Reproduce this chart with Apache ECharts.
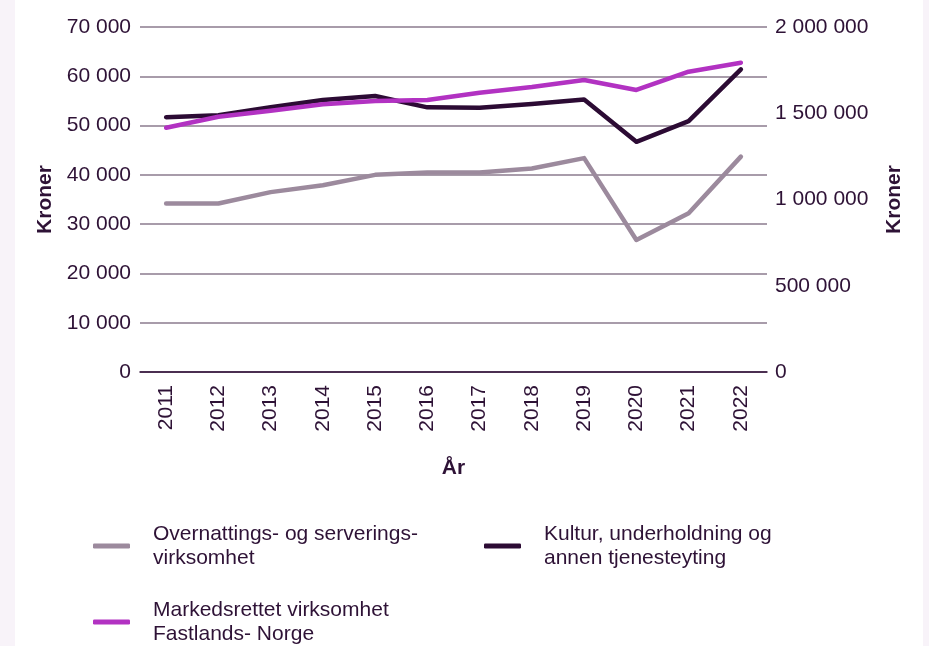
<!DOCTYPE html>
<html>
<head>
<meta charset="utf-8">
<script src="https://cdn.jsdelivr.net/npm/echarts@6/dist/echarts.min.js"></script>
<style>
  html, body { margin: 0; padding: 0; background: #ffffff; }
  #chart { width: 929px; height: 646px; }
</style>
</head>
<body>
<div id="chart"></div>
<script>
// data
var years = ["2011", "2012", "2013", "2014", "2015", "2016", "2017", "2018", "2019", "2020", "2021", "2022"];
var overnatting = [34200, 34200, 36500, 37900, 40000, 40500, 40500, 41300, 43400, 26800, 32200, 43700];
var kultur = [51700, 52100, 53700, 55200, 56000, 53700, 53600, 54400, 55300, 46700, 50900, 61400];
var markedsrettet = [1416000, 1480000, 1515000, 1552000, 1571000, 1577000, 1619000, 1652000, 1693000, 1635000, 1741000, 1793000];
var leftTicks = [0, 70000, 10000];      // min, max, interval
var rightTicks = [0, 2000000, 500000];  // min, max, interval

var names = {
    over: "Overnattings- og serverings-\nvirksomhet",
    kult: "Kultur, underholdning og\nannen tjenesteyting",
    mark: "Markedsrettet virksomhet\nFastlands- Norge"
};
var colors = ['#9c8a9d', '#2c0b34', '#b232c2'];
var textColor = '#2e1236';
var fontFam = '"Liberation Sans", Arial, sans-serif';
var fs = 21;

function spaced(v) {
    return String(v).replace(/\B(?=(\d{3})+(?!\d))/g, ' ');
}

function legendFor(name, left, top) {
    return {
        data: [name],
        left: left,
        top: top,
        icon: 'roundRect',
        itemWidth: 37,
        itemHeight: 5,
        selectedMode: false,
        textStyle: {
            color: textColor,
            fontSize: fs,
            fontFamily: fontFam,
            lineHeight: 24,
            padding: [0, 0, 0, 18]
        }
    };
}

var myChart = echarts.init(document.getElementById('chart'));
var option = {
    backgroundColor: '#ffffff',
    animation: false,
    color: colors,
    graphic: [
        { type: 'rect', shape: { x: 0, y: 0, width: 15, height: 646 }, style: { fill: '#f8f3f9' }, silent: true },
        { type: 'rect', shape: { x: 923, y: 0, width: 6, height: 646 }, style: { fill: '#f8f3f9' }, silent: true }
    ],
    legend: [
        legendFor(names.over, 88, 517),
        legendFor(names.kult, 479, 517),
        legendFor(names.mark, 88, 593)
    ],
    grid: {
        left: 140,
        right: 162,
        top: 27,
        bottom: 274,
        containLabel: false
    },
    xAxis: {
        type: 'category',
        data: years,
        boundaryGap: true,
        name: 'År',
        nameLocation: 'middle',
        nameGap: 86,
        nameTextStyle: { color: textColor, fontSize: fs, fontWeight: 'bold', fontFamily: fontFam },
        axisLine: { lineStyle: { color: '#2c0b34', width: 1.5 } },
        axisTick: { show: false },
        axisLabel: {
            rotate: 90,
            margin: 13,
            color: textColor,
            fontSize: fs,
            fontFamily: fontFam
        }
    },
    yAxis: [
        {
            type: 'value',
            min: leftTicks[0],
            max: leftTicks[1],
            interval: leftTicks[2],
            name: 'Kroner',
            nameLocation: 'middle',
            nameRotate: 90,
            nameGap: 82,
            nameTextStyle: { color: textColor, fontSize: fs, fontWeight: 'bold', fontFamily: fontFam },
            axisLine: { show: false },
            axisTick: { show: false },
            splitLine: { lineStyle: { color: '#8b7b8e', width: 1.5 } },
            axisLabel: {
                margin: 9,
                color: textColor,
                fontSize: fs,
                fontFamily: fontFam,
                formatter: spaced
            }
        },
        {
            type: 'value',
            min: rightTicks[0],
            max: rightTicks[1],
            interval: rightTicks[2],
            position: 'right',
            name: 'Kroner',
            nameLocation: 'middle',
            nameRotate: 90,
            nameGap: 117,
            nameTextStyle: { color: textColor, fontSize: fs, fontWeight: 'bold', fontFamily: fontFam },
            axisLine: { show: false },
            axisTick: { show: false },
            splitLine: { show: false },
            axisLabel: {
                margin: 8,
                color: textColor,
                fontSize: fs,
                fontFamily: fontFam,
                formatter: spaced
            }
        }
    ],
    series: [
        {
            name: names.over,
            type: 'line',
            yAxisIndex: 0,
            showSymbol: false,
            lineStyle: { width: 4.5, cap: 'round', join: 'round' },
            data: overnatting
        },
        {
            name: names.kult,
            type: 'line',
            yAxisIndex: 0,
            showSymbol: false,
            lineStyle: { width: 4.5, cap: 'round', join: 'round' },
            data: kultur
        },
        {
            name: names.mark,
            type: 'line',
            yAxisIndex: 1,
            showSymbol: false,
            lineStyle: { width: 4.5, cap: 'round', join: 'round' },
            data: markedsrettet
        }
    ]
};
myChart.setOption(option);
</script>
</body>
</html>
